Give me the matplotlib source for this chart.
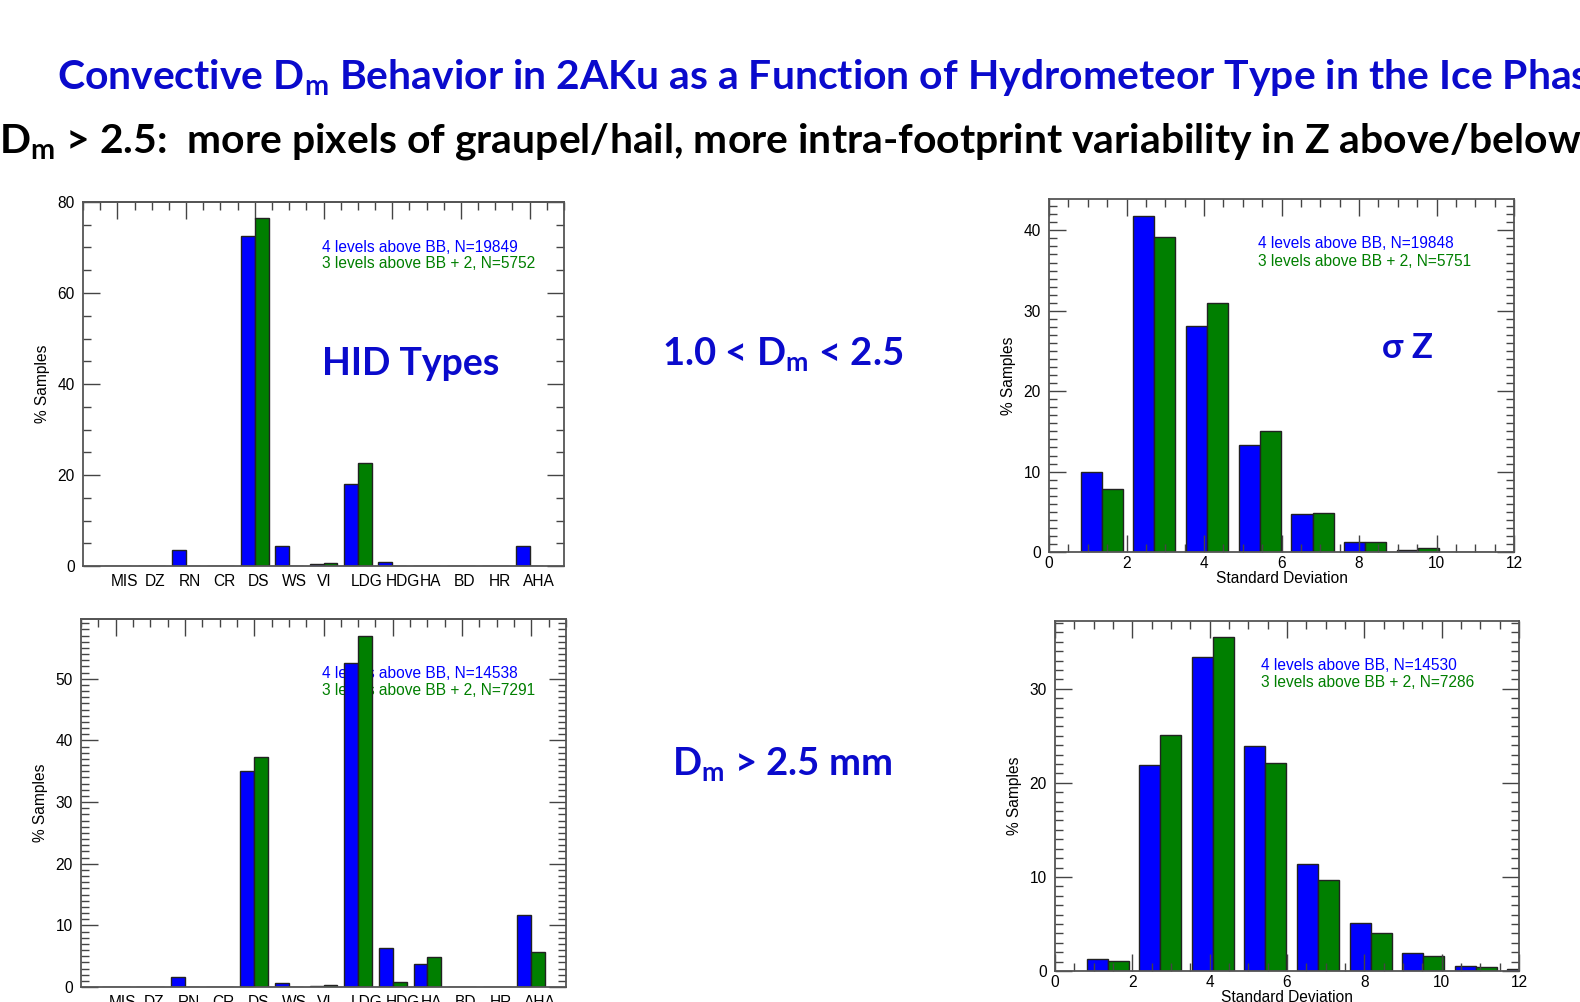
import matplotlib
matplotlib.use("Agg")
import matplotlib.pyplot as plt
from matplotlib.ticker import MultipleLocator, FixedLocator
import numpy as np

plt.rcParams["font.family"] = ["Liberation Sans", "DejaVu Sans"]
plt.rcParams["mathtext.fontset"] = "custom"
plt.rcParams["mathtext.rm"] = "Lato:bold"
plt.rcParams["mathtext.it"] = "Lato:bold"
plt.rcParams["mathtext.bf"] = "Lato:bold"

# HID categories (bar pairs at 1..13)
hid_types = ["MIS", "DZ", "RN", "CR", "DS", "WS", "VI", "LDG", "HDG", "HA", "BD", "HR", "AHA"]
hid_pos = np.arange(1, 14)

# 1.0 < Dm < 2.5
hid_low_4lev = [0, 0.1, 3.5, 0, 72.6, 4.45, 0.5, 18.0, 0.8, 0, 0, 0, 4.3]
hid_low_3lev = [0, 0, 0, 0, 76.4, 0, 0.65, 22.6, 0.1, 0.1, 0, 0, 0.1]
# Dm > 2.5
hid_high_4lev = [0, 0, 1.55, 0, 35.05, 0.65, 0.2, 52.5, 6.4, 3.7, 0, 0, 11.7]
hid_high_3lev = [0, 0, 0, 0, 37.3, 0, 0.3, 56.9, 0.8, 4.8, 0, 0, 5.65]

# standard deviation of Z histograms
sd_bins = [1.36, 2.72, 4.08, 5.44, 6.80, 8.16, 9.52, 10.88, 12.24]
sd_low_4lev = [10.0, 41.8, 28.1, 13.35, 4.75, 1.3, 0.3, 0.05, 0.05]
sd_low_3lev = [7.8, 39.2, 31.0, 15.0, 4.9, 1.3, 0.45, 0.05, 0.0]
sd_high_4lev = [1.25, 21.85, 33.4, 23.9, 11.35, 5.07, 1.9, 0.5, 0.2]
sd_high_3lev = [1.1, 25.1, 35.5, 22.1, 9.7, 4.0, 1.55, 0.4, 0.1]

leg_hid_low = ["4 levels above BB, N=19849", "3 levels above BB + 2, N=5752"]
leg_sd_low = ["4 levels above BB, N=19848", "3 levels above BB + 2, N=5751"]
leg_hid_high = ["4 levels above BB, N=14538", "3 levels above BB + 2, N=7291"]
leg_sd_high = ["4 levels above BB, N=14530", "3 levels above BB + 2, N=7286"]

BLUE = "#0000ff"
GREEN = "#007f00"
TBLUE = "#0a0acc"
EDGE = "#222222"
TICK = "#444444"
FS = 11.2

W, H = 1580, 1002
fig = plt.figure(figsize=(W / 100, H / 100), dpi=100)


def px_rect(l, t, r, b):
    return [l / W, 1 - b / H, (r - l) / W, (b - t) / H]


def style_y(ax, ymax, ymaj, ymin):
    ax.set_ylim(0, ymax)
    ax.yaxis.set_major_locator(MultipleLocator(ymaj))
    ax.yaxis.set_minor_locator(MultipleLocator(ymin))
    ax.tick_params(axis="y", which="both", direction="in", left=True, right=True,
                   color=TICK, labelsize=FS, pad=6)
    ax.tick_params(axis="y", which="major", length=12, width=1)
    ax.tick_params(axis="y", which="minor", length=6, width=1)
    for s in ax.spines.values():
        s.set_color("#555555")
        s.set_linewidth(1.3)
    ax.set_ylabel("% Samples", fontsize=FS, labelpad=5)


def legend_text(ax, x, y1, y2, lines):
    ax.text(x, y1, lines[0], color=BLUE, fontsize=FS, transform=ax.transAxes, va="center", zorder=0.5)
    ax.text(x, y2, lines[1], color=GREEN, fontsize=FS, transform=ax.transAxes, va="center", zorder=0.5)


def hid_panel(rect, v4, v3, ymax, ymaj, ymin, lines, ly):
    ax = fig.add_axes(rect)
    ax.bar(hid_pos, v4, width=-0.4, align="edge", color=BLUE, edgecolor=EDGE, linewidth=1)
    ax.bar(hid_pos, v3, width=0.4, align="edge", color=GREEN, edgecolor=EDGE, linewidth=1)
    ax.set_xlim(0, 14)
    ax.set_xticks(hid_pos - 0.2, hid_types, ha="left")
    ax.tick_params(axis="x", length=0, labelsize=FS, pad=6)
    top = ax.secondary_xaxis("top")
    top.xaxis.set_major_locator(FixedLocator(np.arange(1, 14, 2)))
    top.xaxis.set_minor_locator(MultipleLocator(0.5))
    top.tick_params(which="both", direction="in", labeltop=False, color=TICK, width=1)
    top.tick_params(which="major", length=12)
    top.tick_params(which="minor", length=6)
    top.spines["top"].set_color("#555555")
    top.spines["top"].set_linewidth(1.3)
    style_y(ax, ymax, ymaj, ymin)
    legend_text(ax, 0.497, ly[0], ly[1], lines)
    return ax


def sd_panel(rect, v4, v3, ymax, lines, lx, ly):
    ax = fig.add_axes(rect)
    ax.bar(sd_bins, v4, width=-0.543, align="edge", color=BLUE, edgecolor=EDGE, linewidth=1)
    ax.bar(sd_bins, v3, width=0.543, align="edge", color=GREEN, edgecolor=EDGE, linewidth=1)
    ax.set_xlim(0, 12)
    ax.xaxis.set_major_locator(MultipleLocator(2))
    ax.xaxis.set_minor_locator(MultipleLocator(0.5))
    ax.tick_params(axis="x", which="both", direction="in", top=True, bottom=True,
                   color=TICK, labelsize=FS, pad=3)
    ax.tick_params(axis="x", which="major", length=12, width=1)
    ax.tick_params(axis="x", which="minor", length=6, width=1)
    ax.set_xlabel("Standard Deviation", fontsize=FS, labelpad=0)
    style_y(ax, ymax, 10, 1)
    legend_text(ax, lx, ly[0], ly[1], lines)
    return ax


hid_panel(px_rect(83, 202, 564, 566), hid_low_4lev, hid_low_3lev, 80, 20, 5, leg_hid_low, (0.875, 0.831))
sd_panel(px_rect(1049, 199, 1514, 552), sd_low_4lev, sd_low_3lev, 43.9, leg_sd_low, 0.45, (0.873, 0.824))
hid_panel(px_rect(81, 619, 566, 987), hid_high_4lev, hid_high_3lev, 59.7, 10, 1, leg_hid_high, (0.851, 0.805))
sd_panel(px_rect(1055, 621, 1519, 971), sd_high_4lev, sd_high_3lev, 37.2, leg_sd_high, 0.445, (0.872, 0.825))

# titles and annotations
big = dict(family=["Lato", "DejaVu Sans"], fontweight="bold", va="baseline", ha="left")
fig.text(57 / W, 1 - 89 / H, r"Convective D$_\mathrm{m}$ Behavior in 2AKu as a Function of Hydrometeor Type in the Ice Phase",
         color=TBLUE, fontsize=29.4, **big)
fig.text(-1 / W, 1 - 153 / H, r"D$_\mathrm{m}$ > 2.5:  more pixels of graupel/hail, more intra-footprint variability in Z above/below",
         color="black", fontsize=29.4, **big)
fig.text(322 / W, 1 - 375 / H, "HID Types", color=TBLUE, fontsize=27, **big)
fig.text(662 / W, 1 - 365 / H, r"1.0 < D$_\mathrm{m}$ < 2.5", color=TBLUE, fontsize=27.5, **big)
fig.text(672 / W, 1 - 775 / H, r"D$_\mathrm{m}$ > 2.5 mm", color=TBLUE, fontsize=27.5, **big)
fig.text(1382 / W, 1 - 358 / H, "σ Z", color=TBLUE, fontsize=25, **big)

fig.savefig("out.png", dpi=100)
